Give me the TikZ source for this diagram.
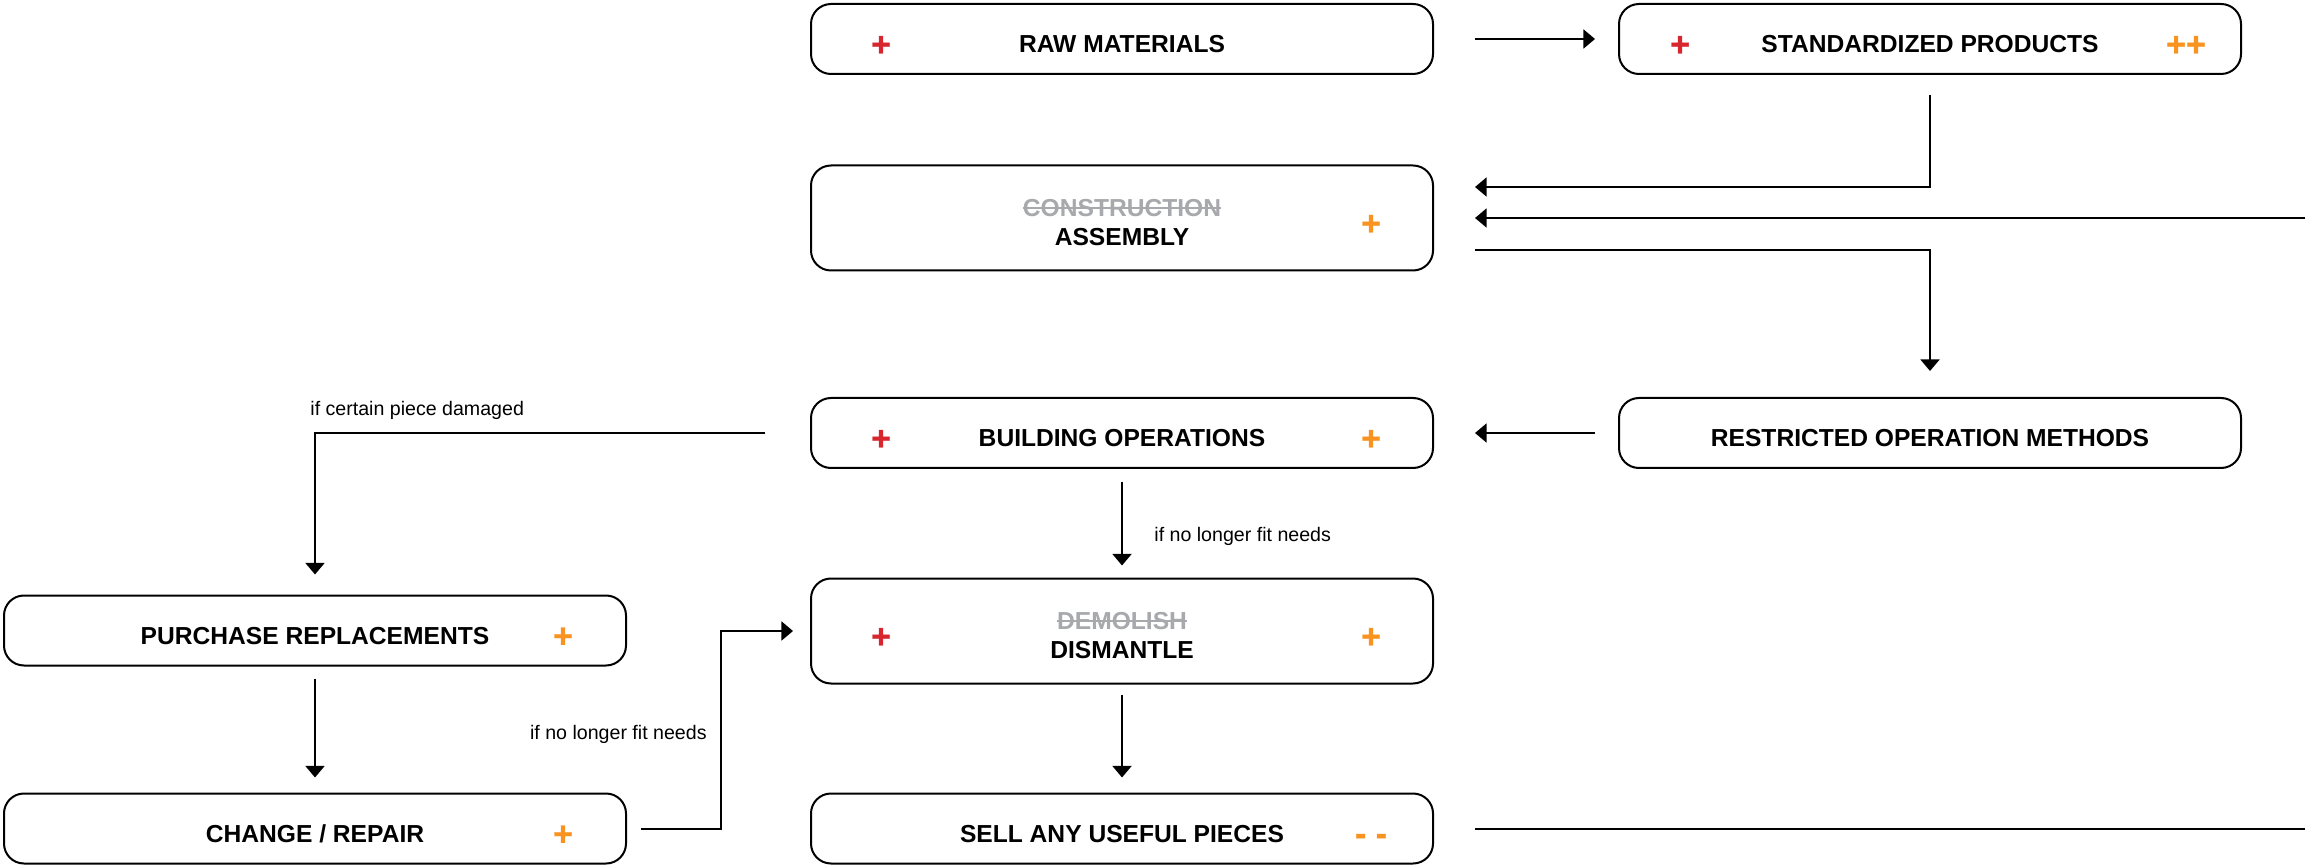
\documentclass[tikz,border=0pt]{standalone}
\usepackage{fontspec}
\setmainfont{Liberation Sans}
\newfontfamily\signfont[FakeBold=1]{Liberation Sans Bold}
\usetikzlibrary{arrows.meta}
\definecolor{plusred}{HTML}{D7262E}
\definecolor{plusorange}{HTML}{F7931E}
\definecolor{strikegray}{HTML}{A7A9AC}
\begin{document}
\begin{tikzpicture}[x=0.5pt,y=-0.5pt,
  box/.style={draw=black, line width=1pt, rounded corners=10pt,
    minimum width=311pt, minimum height=35pt, inner sep=0pt,
    font=\bfseries\fontsize{12.3}{14}\selectfont, text height=13.8pt, text depth=0pt},
  tallbox/.style={box, minimum height=52.5pt},
  boxtext/.style={inner sep=0pt, font=\bfseries\fontsize{12.3}{14}\selectfont,
    text height=8.8pt, text depth=0pt},
  oldtext/.style={boxtext, text=strikegray},
  strike/.style={draw=strikegray, line width=1pt},
  sign/.style={inner sep=0pt, yshift=-3.5pt, font=\signfont\fontsize{17}{17}\selectfont},
  redsign/.style={sign, text=plusred},
  orangesign/.style={sign, text=plusorange},
  lbl/.style={inner sep=0pt, font=\fontsize{9.8}{11}\selectfont},
  conn/.style={line width=1pt},
  arr/.style={conn, -{Triangle[length=5.8pt,width=9.5pt]}}
]
\useasboundingbox (0,0) rectangle (2305,865);

% process boxes
\node[box] (raw) at (1122,39) {RAW MATERIALS};
\node[box] (std) at (1930,39) {STANDARDIZED PRODUCTS};
\node[tallbox] (asm) at (1122,218) {};
\node[box] (bld) at (1122,433) {BUILDING OPERATIONS};
\node[box] (res) at (1930,433) {RESTRICTED OPERATION METHODS};
\node[box] (pur) at (315,630.5) {PURCHASE REPLACEMENTS};
\node[tallbox] (dis) at (1122,631) {};
\node[box] (chg) at (315,828.5) {CHANGE / REPAIR};
\node[box] (sel) at (1122,828.5) {SELL ANY USEFUL PIECES};

% two-line boxes: struck-out old term above the new one
\node[oldtext] (contxt) at (1122,208) {CONSTRUCTION};
\draw[strike] (contxt.west) -- (contxt.east);
\node[boxtext] (asmtxt) at (1122,237) {ASSEMBLY};
\node[oldtext] (demtxt) at (1122,621) {DEMOLISH};
\draw[strike] (demtxt.west) -- (demtxt.east);
\node[boxtext] (distxt) at (1122,650) {DISMANTLE};

% rating marks
\node[redsign] (rawL) at ([xshift=35.5pt]raw.west) {+};
\node[redsign] (stdL) at ([xshift=31pt]std.west) {+};
\node[orangesign] (stdR) at ([xshift=-28pt]std.east) {++};
\node[orangesign] (asmR) at ([xshift=-31.5pt]asm.east) {+};
\node[redsign] (bldL) at ([xshift=35.5pt]bld.west) {+};
\node[orangesign] (bldR) at ([xshift=-31.5pt]bld.east) {+};
\node[orangesign] (purR) at ([xshift=-32pt]pur.east) {+};
\node[redsign] (disL) at ([xshift=35.5pt]dis.west) {+};
\node[orangesign] (disR) at ([xshift=-31.5pt]dis.east) {+};
\node[orangesign] (chgR) at ([xshift=-32pt]chg.east) {+};
\node[orangesign, yshift=-2pt] (selR) at ([xshift=-31.5pt]sel.east) {- -};

% right edge for the open connectors
\coordinate (edgeR) at (2305,0);

% connectors
\draw[arr] ([xshift=20.5pt]raw.east) -- ([xshift=-11.5pt]std.west);
\draw[arr] ([yshift=-10pt]std.south) |- ([xshift=20.5pt,yshift=15.5pt]asm.east);
\draw[arr] (asm.east -| edgeR) -- ([xshift=20.5pt]asm.east);
\draw[arr] ([xshift=20.5pt,yshift=-16pt]asm.east) -| ([yshift=13pt]res.north);
\draw[arr] ([xshift=-11.5pt]res.west) -- ([xshift=20.5pt]bld.east);
\draw[arr] ([xshift=-22.5pt]bld.west) -| ([yshift=10pt]pur.north);
\draw[arr] ([yshift=-6.5pt]bld.south) -- ([yshift=6pt]dis.north);
\draw[arr] ([yshift=-5pt]dis.south) -- ([yshift=7.5pt]sel.north);
\draw[arr] ([yshift=-6pt]pur.south) -- ([yshift=7.5pt]chg.north);
\draw[arr] ([xshift=7pt]chg.east) -- ++(40pt,0) |- ([xshift=-8.5pt]dis.west);
\draw[conn] ([xshift=20.5pt]sel.east) -- (sel.east -| edgeR);

% connector labels
\node[lbl, anchor=west] (lblDamaged) at (310,410) {if certain piece damaged};
\node[lbl, anchor=west] (lblFitA) at (1154,536) {if no longer fit needs};
\node[lbl, anchor=east] (lblFitB) at (707,734) {if no longer fit needs};
\end{tikzpicture}
\end{document}
